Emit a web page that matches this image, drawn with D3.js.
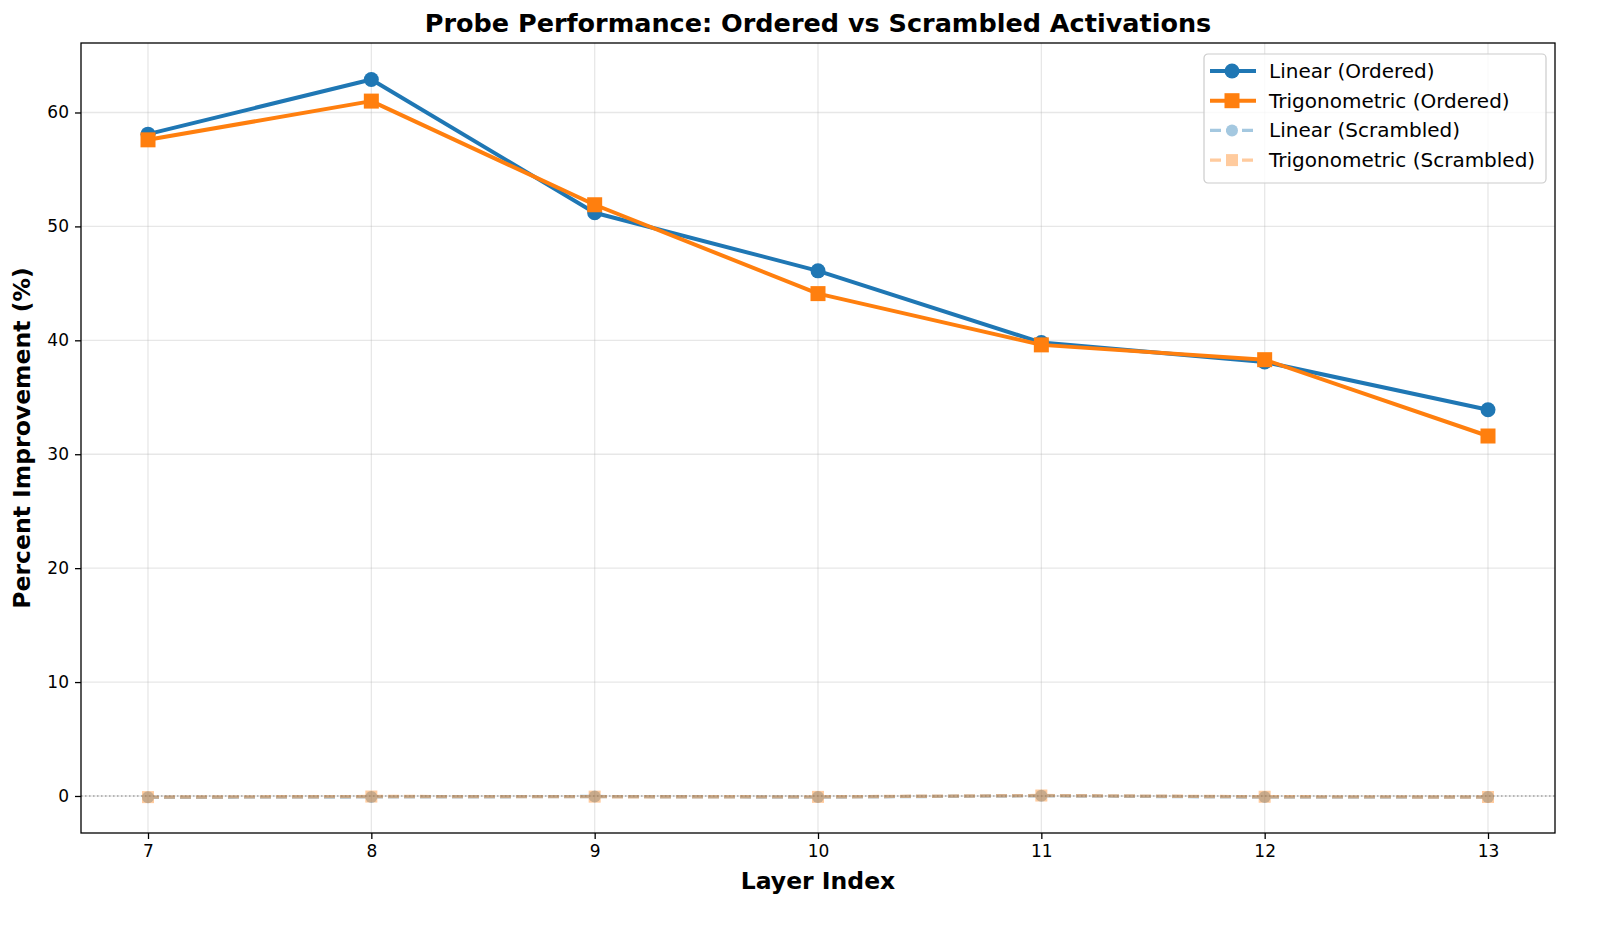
<!DOCTYPE html>
<html>
<head>
<meta charset="utf-8">
<script src="https://cdn.jsdelivr.net/npm/d3@7"></script>
<style>
    html, body { margin: 0; padding: 0; background: #fff; overflow: hidden; }
    svg { display: block; }
    text { font-family: "DejaVu Sans", sans-serif; }
</style>
</head>
<body>
<div id="chart"></div>
<script>

// Layer indices and probe results (percent improvement)
var layers = [7, 8, 9, 10, 11, 12, 13];
var linearOrdered = [58.1, 62.9, 51.2, 46.1, 39.8, 38.1, 33.9];
var trigOrdered = [57.6, 61.0, 51.9, 44.1, 39.6, 38.3, 31.6];
var linearScrambled = [-0.12, -0.08, -0.05, -0.1, 0.02, -0.1, -0.1];
var trigScrambled = [-0.1, -0.05, -0.06, -0.08, 0.04, -0.07, -0.09];
var yTicks = [0, 10, 20, 30, 40, 50, 60];

var series = [
    {name: "Linear (Ordered)", values: linearOrdered, color: "#1f77b4", marker: "circle", dash: null, alpha: 1},
    {name: "Trigonometric (Ordered)", values: trigOrdered, color: "#ff7f0e", marker: "square", dash: null, alpha: 1},
    {name: "Linear (Scrambled)", values: linearScrambled, color: "#1f77b4", marker: "circle", dash: "11,5", alpha: 0.4},
    {name: "Trigonometric (Scrambled)", values: trigScrambled, color: "#ff7f0e", marker: "square", dash: "11,5", alpha: 0.4}
];

var W = 1600, H = 926;
var margin = {top: 43, right: 45, bottom: 93, left: 81};
var width = W - margin.left - margin.right;
var height = H - margin.top - margin.bottom;

var svg = d3.select("#chart").append("svg")
    .attr("width", W)
    .attr("height", H);

var g = svg.append("g")
    .attr("transform", "translate(" + margin.left + "," + margin.top + ")");

// Scales
var x = d3.scaleLinear()
    .domain([6.7, 13.3])
    .range([0, width]);

var y = d3.scaleLinear()
    .domain([-3.25, 66.1])
    .range([height, 0]);

// Grid
g.append("g")
    .selectAll("line")
    .data(layers)
    .enter().append("line")
    .attr("x1", d => x(d)).attr("x2", d => x(d))
    .attr("y1", 0).attr("y2", height)
    .attr("stroke", "#b0b0b0").attr("stroke-opacity", 0.3).attr("stroke-width", 1.3);

g.append("g")
    .selectAll("line")
    .data(yTicks)
    .enter().append("line")
    .attr("x1", 0).attr("x2", width)
    .attr("y1", d => y(d)).attr("y2", d => y(d))
    .attr("stroke", "#b0b0b0").attr("stroke-opacity", 0.3).attr("stroke-width", 1.3);

// zero reference line
g.append("line")
    .attr("x1", 0).attr("x2", width)
    .attr("y1", y(0)).attr("y2", y(0))
    .attr("stroke", "#808080").attr("stroke-width", 1.1)
    .attr("stroke-dasharray", "1.5,2.5");

// Axes
var xAxis = g.append("g")
    .attr("transform", "translate(0," + height + ")")
    .call(d3.axisBottom(x).tickValues(layers).tickSize(6).tickPadding(6).tickFormat(d3.format("d")));

var yAxis = g.append("g")
    .call(d3.axisLeft(y).tickValues(yTicks).tickSize(6).tickPadding(6));

[xAxis, yAxis].forEach(function(a) {
    a.attr("font-size", null).attr("font-family", null);
    a.select(".domain").remove();
    a.selectAll("text").attr("fill", "#000")
        .style("font-size", "17px")
        .style("font-family", "DejaVu Sans, sans-serif");
    a.selectAll("line").attr("stroke", "#000").attr("stroke-width", 1.3);
});

// marker helper
function drawMarker(sel, type, size) {
    if (type === "circle") {
        return sel.append("circle").attr("r", size / 2);
    }
    return sel.append("rect")
        .attr("x", -size / 2).attr("y", -size / 2)
        .attr("width", size).attr("height", size);
}

// Lines and markers (scrambled first so ordered sit on top)
var line = d3.line()
    .x((d, i) => x(layers[i]))
    .y(d => y(d));

var drawOrder = [2, 3, 0, 1];
drawOrder.forEach(function(k) {
    var s = series[k];
    var sg = g.append("g").attr("opacity", s.alpha);

    sg.append("path")
        .datum(s.values)
        .attr("d", line)
        .attr("fill", "none")
        .attr("stroke", s.color)
        .attr("stroke-width", s.dash ? 3.4 : 4)
        .attr("stroke-dasharray", s.dash)
        .attr("stroke-linejoin", "round");

    s.values.forEach(function(v, i) {
        var m = sg.append("g").attr("transform", "translate(" + x(layers[i]) + "," + y(v) + ")");
        drawMarker(m, s.marker, s.dash ? 12 : 15).attr("fill", s.color);
    });
});

// frame
g.append("rect")
    .attr("width", width).attr("height", height)
    .attr("fill", "none").attr("stroke", "#000").attr("stroke-width", 1.3);

// Legend
var legend = g.append("g")
    .attr("transform", "translate(" + (width - 351) + ",11)");

legend.append("rect")
    .attr("width", 342).attr("height", 129)
    .attr("rx", 4).attr("ry", 4)
    .attr("fill", "#fff").attr("fill-opacity", 0.8)
    .attr("stroke", "#cccccc").attr("stroke-width", 1.2);

series.forEach(function(s, i) {
    var row = legend.append("g")
        .attr("transform", "translate(0," + (17 + i * 29.7) + ")");
    var item = row.append("g").attr("opacity", s.alpha);
    item.append("line")
        .attr("x1", 6).attr("x2", 52)
        .attr("stroke", s.color)
        .attr("stroke-width", s.dash ? 3.4 : 4)
        .attr("stroke-dasharray", s.dash);
    var m = item.append("g").attr("transform", "translate(28,0)");
    drawMarker(m, s.marker, s.dash ? 12 : 15).attr("fill", s.color);
    row.append("text")
        .attr("x", 65).attr("y", 0)
        .attr("dy", "0.35em")
        .attr("font-size", "20px")
        .text(s.name);
});

// Title and axis labels
svg.append("text")
    .attr("x", margin.left + width / 2).attr("y", 32)
    .attr("text-anchor", "middle")
    .attr("font-size", "25.5px").attr("font-weight", "bold")
    .text("Probe Performance: Ordered vs Scrambled Activations");

svg.append("text")
    .attr("x", margin.left + width / 2).attr("y", 889)
    .attr("text-anchor", "middle")
    .attr("font-size", "23.5px").attr("font-weight", "bold")
    .text("Layer Index");

svg.append("text")
    .attr("transform", "translate(30," + (margin.top + height / 2) + ") rotate(-90)")
    .attr("text-anchor", "middle")
    .attr("font-size", "23.5px").attr("font-weight", "bold")
    .text("Percent Improvement (%)");

</script>
</body>
</html>
